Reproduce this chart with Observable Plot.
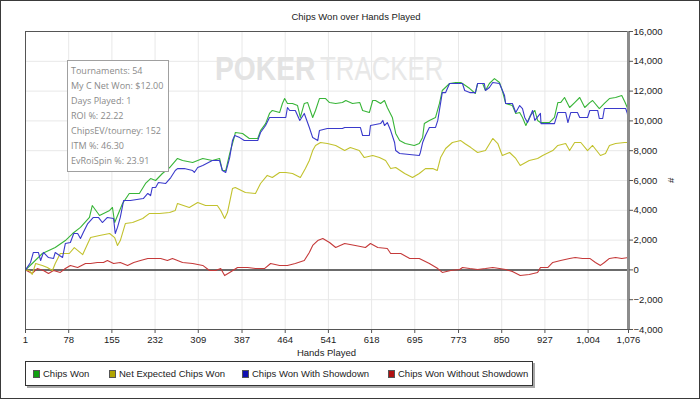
<!DOCTYPE html>
<html>
<head>
<meta charset="utf-8">
<script src="https://cdn.jsdelivr.net/npm/d3@7"></script>
<script src="https://cdn.jsdelivr.net/npm/@observablehq/plot@0.6"></script>
<style>
  html, body { margin: 0; padding: 0; background: #fff; }
  #wrap { position: relative; width: 700px; height: 399px; overflow: hidden; font-family: "Liberation Sans", Arial, sans-serif; }
  #border { position: absolute; left: 0; top: 0; width: 698px; height: 397px; border: 1px solid #3a3a3a; pointer-events: none; }
  #title { position: absolute; left: 0; width: 712px; top: 11px; text-align: center; font-size: 9.5px; color: #222; }
  #xlabel { position: absolute; left: 25px; width: 603px; top: 347px; text-align: center; font-size: 9.5px; color: #222; }
  #ylabel { position: absolute; left: 669px; top: 175px; font-size: 9.5px; color: #222; transform: rotate(90deg); }
  #info { position: absolute; left: 67px; top: 60px; width: 102px; height: 112px; border: 1px solid #a0a0a0; background: #fff;
          font-family: "Open Sans", "Noto Sans", sans-serif; font-size: 9px; color: #8a8a8a; box-sizing: border-box; padding: 2px 0 0 3px; }
  #info div { height: 15px; line-height: 15px; white-space: nowrap; }
  #legend { position: absolute; left: 25px; top: 361px; width: 506px; height: 23px; border: 1px solid #333; background: #fff;
            box-shadow: 2px 2px 0 #a8a8a8; }
  .li { position: absolute; top: 6px; font-size: 9.5px; color: #222; white-space: nowrap; line-height: 11px; }
  .sw { display: inline-block; width: 5px; height: 6px; border: 1px solid #555; vertical-align: -1px; margin-right: 3px; }
</style>
</head>
<body>
<div id="wrap">
  <div id="chart"></div>
  <div id="title"></div>
  <div id="xlabel"></div>
  <div id="ylabel"></div>
  <div id="info"></div>
  <div id="legend"></div>
  <div id="border"></div>
</div>
<script>
// ---- data ----
const chartTitle = "Chips Won over Hands Played";
const xLabel = "Hands Played";
const yLabel = "#";
const watermarkBold = "POKER";
const watermarkLight = "TRACKER";
const xTicks = [1, 78, 155, 232, 309, 387, 464, 541, 618, 695, 773, 850, 927, 1004, 1076];
const yTicks = [-4000, -2000, 0, 2000, 4000, 6000, 8000, 10000, 12000, 14000, 16000];
const seriesNames = ["Chips Won", "Net Expected Chips Won", "Chips Won With Showdown", "Chips Won Without Showdown"];
const infoLines = ["Tournaments: 54", "My C Net Won: $12.00", "Days Played: 1", "ROI %: 22.22", "ChipsEV/tourney: 152", "ITM %: 46.30", "EvRoiSpin %: 23.91"];

const wonHands = [1,13,31,54,72,85,99,115,120,133,151,156,160,174,186,204,215,224,233,245,258,272,281,299,317,334,347,352,358,365,374,375,388,400,415,420,429,436,441,454,459,463,468,477,486,491,498,504,513,518,525,536,543,554,566,572,584,597,602,614,620,625,634,641,646,655,661,668,678,694,703,709,712,721,732,739,744,757,768,777,780,793,803,807,816,821,828,837,846,851,857,869,875,882,887,893,901,909,914,919,935,944,950,955,962,971,980,989,998,1007,1012,1024,1033,1042,1053,1064,1070,1076];
const wonValues = [0,430,1100,1500,1970,2440,2850,3520,4320,3650,3990,4190,3180,4460,5130,5130,5800,6130,6000,6470,6870,7480,7340,7210,7480,7340,7480,6670,6670,7810,9020,9220,9150,8820,8820,9350,9820,10500,10700,10560,11170,11500,11170,11170,11030,10230,11170,11230,10230,10700,11500,11500,11230,11170,11230,11370,11170,11230,10700,10560,11370,11370,11170,11370,10900,10230,9160,8680,8480,8350,8480,8890,9820,10030,10230,11170,12040,12510,12580,12580,12510,12170,11840,12510,12510,12040,12510,12840,12580,12040,11170,11030,10500,10560,10230,9690,10360,10700,10030,9890,9890,10230,11230,11230,11570,10900,11230,11570,10900,11230,11370,10830,11170,11500,11570,11700,11230,10700];

const expHands = [1,8,13,19,31,40,49,54,63,79,88,103,112,117,133,151,160,165,170,179,192,210,222,240,258,268,272,293,308,322,343,349,356,361,370,375,393,411,420,432,441,454,465,477,491,500,507,513,518,527,539,554,570,580,596,605,620,632,643,652,661,677,691,703,714,727,735,741,750,762,777,784,795,807,821,834,843,851,864,875,883,899,914,923,941,950,964,971,980,991,1003,1012,1026,1035,1042,1053,1069,1074,1076];
const expValues = [0,-40,-300,430,300,160,-40,430,1100,1100,1500,1030,1770,2170,2310,2440,2170,1640,1970,3110,3180,3450,3790,3790,3850,3990,4460,4190,4520,4320,4320,3990,3450,3850,5460,5530,5190,5130,5800,6340,6200,6540,6540,6470,6200,6800,7340,8010,8350,8550,8480,8350,8010,8210,8010,7540,7680,7540,7340,6800,6870,6470,6200,6470,6800,6800,6670,7540,8150,8550,8680,8480,8210,7880,8010,8820,8480,7680,7880,7480,7010,7340,7480,7680,8010,8350,8480,8010,8550,8550,8010,8350,7680,7810,8350,8480,8550,8550,8150];

const sdHands = [1,10,15,24,28,33,42,51,54,67,72,81,87,94,99,104,112,122,131,138,147,158,161,165,170,176,188,211,219,224,227,233,238,251,260,268,272,284,299,302,308,317,334,347,352,358,365,370,374,383,391,415,420,429,436,465,468,472,482,490,498,507,513,522,525,539,566,570,598,602,614,616,634,638,641,646,652,659,661,668,703,705,709,714,721,732,736,744,750,757,780,784,793,803,807,819,821,828,834,846,855,857,869,875,882,887,891,896,900,905,909,919,920,944,950,964,968,973,985,989,1003,1007,1021,1024,1030,1033,1071,1074,1076];
const sdValues = [0,500,1170,1170,630,1170,830,770,1170,830,1770,1840,2440,2440,2110,2510,3110,3520,3520,3180,3520,3450,2440,2850,3520,4660,4660,4790,5130,4990,5530,5530,5870,5800,6200,6670,6800,6800,6670,6540,6870,7010,7340,7340,6670,6540,7540,8680,9020,8880,8680,8680,9220,9690,10230,10230,10900,10700,10700,10030,10500,9560,8880,8680,9350,9490,9490,9560,9560,9020,9020,9690,9820,10030,9690,9890,9350,8550,8010,7810,7680,7880,8550,9020,9560,9560,10030,11900,11900,12510,12510,12040,11900,11900,12510,12510,12040,12240,12580,12510,11700,11170,11170,10560,11030,10830,10230,9890,10230,10700,10030,10500,9820,9820,10560,10560,9890,10560,10560,10230,10230,10700,10700,10160,10160,10830,10830,10500,9690];

const nsdHands = [1,13,22,33,42,51,63,72,81,94,108,117,129,140,147,158,170,183,194,206,219,229,242,254,263,281,299,317,329,340,349,356,365,379,397,411,427,438,454,468,482,498,507,513,522,531,543,554,570,589,607,616,629,646,652,670,686,703,721,736,744,759,775,780,793,807,821,834,846,857,869,883,899,914,919,932,941,955,971,981,994,1007,1017,1026,1033,1042,1053,1064,1076];
const nsdValues = [0,-240,90,-40,-240,-40,-170,90,300,160,430,430,500,500,630,430,500,300,500,630,770,770,770,630,770,500,430,300,-40,-40,90,-380,-170,160,160,90,90,430,300,300,430,630,1170,1640,1970,2110,1840,1500,1770,1640,1500,1770,1500,1440,1100,1100,770,770,430,90,-170,-40,30,160,90,30,90,160,90,30,-110,-380,-310,-170,160,160,500,630,770,830,770,770,500,300,500,770,830,770,830];

const colors = ["#38b538", "#c2c22e", "#3a3acb", "#c53a3a"];
const swatchColors = ["#10a010", "#b0a400", "#1010b0", "#b01010"];

// ---- build table ----
const series = [
  [wonHands, wonValues], [expHands, expValues], [sdHands, sdValues], [nsdHands, nsdValues]
];
const rows = series.flatMap(([hs, vs], i) => hs.map((h, j) => ({hand: h, value: vs[j], series: seriesNames[i]})));
const fmt = d3.format(",");

const chart = Plot.plot({
  width: 700,
  height: 399,
  marginTop: 31,
  marginBottom: 70,
  marginLeft: 25,
  marginRight: 72,
  x: {domain: [1, 1076]},
  y: {domain: [-4000, 16000]},
  color: {domain: seriesNames, range: colors},
  style: {fontFamily: "'Liberation Sans', Arial, sans-serif", fontSize: "9.5px", color: "#222", background: "transparent", overflow: "visible"},
  marks: [
    Plot.gridX(xTicks, {stroke: "#e8e8e8", strokeOpacity: 1}),
    Plot.gridY(yTicks, {stroke: "#e8e8e8", strokeOpacity: 1}),
    Plot.ruleY([0], {stroke: "#3c3c3c", strokeWidth: 1.5}),
    Plot.line(rows.filter(d => d.series === seriesNames[3]), {x: "hand", y: "value", stroke: "series", strokeWidth: 1.1}),
    Plot.line(rows.filter(d => d.series === seriesNames[1]), {x: "hand", y: "value", stroke: "series", strokeWidth: 1.1}),
    Plot.line(rows.filter(d => d.series === seriesNames[0]), {x: "hand", y: "value", stroke: "series", strokeWidth: 1.1}),
    Plot.line(rows.filter(d => d.series === seriesNames[2]), {x: "hand", y: "value", stroke: "series", strokeWidth: 1.1}),
    Plot.frame({stroke: "#555"}),
    Plot.ruleX([1076], {stroke: "#8c8c8c", strokeWidth: 3}),
    Plot.axisX(xTicks, {tickSize: 4, tickPadding: 3, tickFormat: fmt, label: null, stroke: "#555"}),
    Plot.axisY(yTicks, {anchor: "right", tickSize: 4, tickPadding: 1, tickFormat: fmt, label: null, stroke: "#555"})
  ]
});
document.getElementById("chart").appendChild(chart);

// watermark (decoration, drawn behind the data), horizontally condensed with transforms
const ns = "http://www.w3.org/2000/svg";
const wm = document.createElementNS(ns, "g");
function wmText(str, tx, sx, weight, fill) {
  const t = document.createElementNS(ns, "text");
  t.setAttribute("transform", `translate(${tx},80) scale(${sx},1)`);
  t.setAttribute("text-anchor", "start");
  t.setAttribute("font-family", "'Liberation Sans', Arial, sans-serif");
  t.setAttribute("font-size", 34);
  t.setAttribute("font-weight", weight);
  t.setAttribute("fill", fill);
  t.textContent = str;
  wm.appendChild(t);
}
wmText(watermarkBold, 215, 0.83, "bold", "#e3e3e3");
wmText(watermarkLight, 320, 0.76, "normal", "#e8e8e8");
const firstMark = chart.querySelector("g[aria-label='rule']") || chart.lastChild;
chart.insertBefore(wm, firstMark);

// texts
document.getElementById("title").textContent = chartTitle;
document.getElementById("xlabel").textContent = xLabel;
document.getElementById("ylabel").textContent = yLabel;
const info = document.getElementById("info");
infoLines.forEach(s => { const d = document.createElement("div"); d.textContent = s; info.appendChild(d); });

// legend
const legendX = [7, 83, 216, 362];
const legend = document.getElementById("legend");
seriesNames.forEach((name, i) => {
  const it = document.createElement("div");
  it.className = "li";
  it.style.left = legendX[i] + "px";
  const sw = document.createElement("span");
  sw.className = "sw";
  sw.style.background = swatchColors[i];
  it.appendChild(sw);
  it.appendChild(document.createTextNode(name));
  legend.appendChild(it);
});
</script>
</body>
</html>
